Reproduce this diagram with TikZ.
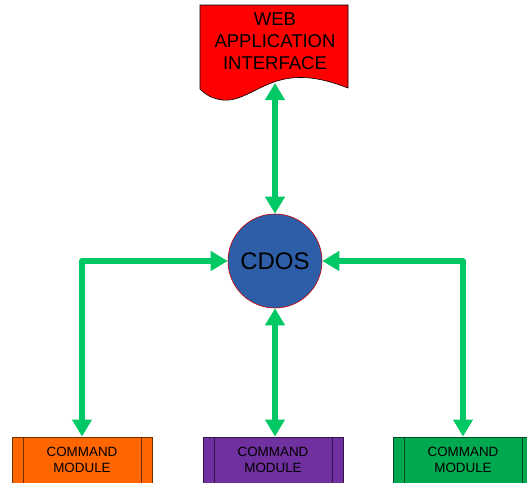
\documentclass[tikz,border=0pt]{standalone}
\usepackage{fontspec}
\setmainfont{Liberation Sans}
\usetikzlibrary{arrows.meta}
\definecolor{arrgreen}{RGB}{0,200,100}
\definecolor{cdosblue}{RGB}{46,94,168}
\definecolor{modorange}{RGB}{255,102,0}
\definecolor{modpurple}{RGB}{112,48,160}
\definecolor{modgreen}{RGB}{0,168,80}
\tikzset{
  conn/.style={draw=arrgreen, line width=6pt, line join=round,
    {Triangle[length=17pt,width=19pt]}-{Triangle[length=17pt,width=19pt]}},
  modbox/.style={draw=#1!45!black, fill=#1, line width=0.9pt, minimum width=140pt, minimum height=46pt,
    inner sep=0pt, align=center, font=\fontsize{13.4}{16}\selectfont, text=black},
}
\begin{document}
\begin{tikzpicture}[x=1pt,y=-1pt]
\useasboundingbox (0,0) rectangle (527,482);
% document shape
\draw[fill=red, draw=black, line width=0.6pt]
  (200,5) -- (348,5) -- (348,88)
  .. controls (322,78) and (300,74) .. (277,81)
  .. controls (255,88) and (240,102) .. (222,100)
  .. controls (210,98) and (205,94) .. (200,89) -- cycle;
\node[font=\fontsize{18.5}{22}\selectfont, align=center, text=black] (web) at (275,41) {WEB\\APPLICATION\\INTERFACE};
\coordinate (webb) at (275,83);
% CDOS
\node[circle, fill=cdosblue, draw=red!80!black, line width=0.6pt, minimum size=94pt, inner sep=0pt,
  font=\fontsize{24}{28}\selectfont] (cdos) at (275,261) {CDOS};
% modules
\node[modbox=modorange] (m1) at (82,460) {COMMAND\\MODULE};
\node[modbox=modpurple] (m2) at (273,460) {COMMAND\\MODULE};
\node[modbox=modgreen] (m3) at (463,460) {COMMAND\\MODULE};
\foreach \m/\c in {m1/modorange,m2/modpurple,m3/modgreen}{
  \draw[draw=\c!45!black, line width=0.9pt] ([xshift=12pt]\m.north west) -- ([xshift=12pt]\m.south west);
  \draw[draw=\c!45!black, line width=0.9pt] ([xshift=-11pt]\m.north east) -- ([xshift=-11pt]\m.south east);
}
% connectors
\draw[conn] (webb) -- (cdos.north);
\draw[conn] (cdos.south) -- (cdos.south |- m2.north);
\draw[conn] (cdos.west) -| (m1.north);
\draw[conn] (cdos.east) -| (m3.north);
\end{tikzpicture}
\end{document}
